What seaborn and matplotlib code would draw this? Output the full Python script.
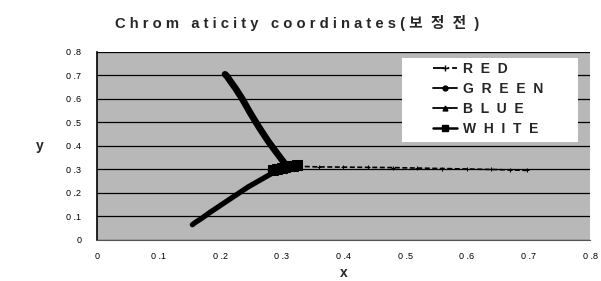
import matplotlib
matplotlib.use("Agg")
import matplotlib.pyplot as plt
import seaborn as sns
import pandas as pd
from matplotlib.lines import Line2D
from matplotlib.patches import Rectangle

sns.set_theme(style="white")
plt.rcParams['font.family'] = ['Liberation Sans', 'Noto Sans CJK KR', 'DejaVu Sans']

# data
red_x = [0.313, 0.33, 0.36, 0.40, 0.44, 0.48, 0.52, 0.56, 0.60, 0.64, 0.67, 0.697]
red_y = [0.315, 0.313, 0.311, 0.310, 0.309, 0.308, 0.306, 0.304, 0.302, 0.300, 0.298, 0.296]
green_x = [0.305, 0.292, 0.278, 0.263, 0.249, 0.236, 0.225, 0.216, 0.211, 0.208]
green_y = [0.325, 0.37, 0.42, 0.48, 0.54, 0.60, 0.645, 0.678, 0.697, 0.705]
blue_x = [0.300, 0.285, 0.265, 0.245, 0.225, 0.205, 0.185, 0.170, 0.160, 0.155]
blue_y = [0.300, 0.285, 0.255, 0.225, 0.190, 0.155, 0.120, 0.092, 0.075, 0.065]
white_x = [0.285, 0.292, 0.300, 0.306, 0.312, 0.318, 0.324]
white_y = [0.296, 0.301, 0.306, 0.310, 0.313, 0.316, 0.318]

series = ["RED", "GREEN", "BLUE", "WHITE"]
xs = [red_x, green_x, blue_x, white_x]
ys = [red_y, green_y, blue_y, white_y]

title = "C h r o m   a t i c i t y   c o o r d i n a t e s ( 보  정  전  )"
xticks = [0, 0.1, 0.2, 0.3, 0.4, 0.5, 0.6, 0.7, 0.8]
yticks = [0, 0.1, 0.2, 0.3, 0.4, 0.5, 0.6, 0.7, 0.8]

def fmt(v):
    return "0" if v == 0 else ("0 ." + str(int(round(v * 10))))

fig = plt.figure(figsize=(6.01, 2.81), dpi=100)
ax = fig.add_axes([0.161, 0.146, 0.821, 0.669])
ax.set_facecolor('#b8b8b8')

styles = {
    "RED": dict(lw=1.2, marker='+', ms=3, ls=(0, (3, 1.5)), lmk='+', lms=4),
    "GREEN": dict(lw=4.8, marker=None, ms=0, ls='-', lmk='o', lms=3.5),
    "BLUE": dict(lw=3.8, marker=None, ms=0, ls='-', lmk='^', lms=3.5),
    "WHITE": dict(lw=7, marker='s', ms=7, ls='-', lmk='s', lms=5),
}
for name, x, y in zip(series, xs, ys):
    df = pd.DataFrame({"x": x, "y": y})
    st = styles[name]
    kw = {}
    if st['marker']:
        kw = dict(marker=st['marker'], markersize=st['ms'], markeredgecolor='black')
    sns.lineplot(data=df, x="x", y="y", sort=False, color='black', ax=ax,
                 linewidth=st['lw'], linestyle=st['ls'], legend=False,
                 solid_capstyle='round', **kw)

ax.set_xlim(0, 0.8)
ax.set_ylim(0, 0.8)
ax.set_xticks(xticks)
ax.set_yticks(yticks)
ax.set_xticklabels([fmt(v) for v in xticks], fontsize=6.5)
ax.set_yticklabels([fmt(v) for v in yticks], fontsize=6.5)
ax.yaxis.grid(True, color='black', linewidth=0.9)
ax.xaxis.grid(False)
ax.set_axisbelow(True)
for s in ['top', 'right']:
    ax.spines[s].set_visible(False)
ax.spines['left'].set_color('black')
ax.spines['left'].set_linewidth(1.2)
ax.spines['bottom'].set_color('#555555')
ax.spines['bottom'].set_linewidth(0.8)
ax.tick_params(axis='both', direction='out', length=3, width=0.8, colors='black', pad=8)
ax.tick_params(axis='x', pad=6)

ax.set_xlabel("x", fontsize=10, fontweight='bold', va='center')
ax.set_ylabel("y", fontsize=10, fontweight='bold', rotation=0, va='center', ha='center')
ax.xaxis.set_label_coords(0.5, -0.176)
ax.yaxis.set_label_coords(-0.116, 0.5)

fig.text(0.495, 0.918, title, ha='center', va='center', fontsize=10.6, fontweight='bold')

# legend box
ax.add_patch(Rectangle((0.619, 0.521), 0.357, 0.447, transform=ax.transAxes,
                       facecolor='white', edgecolor='none', zorder=4))
handles = []
for name in series:
    st = styles[name]
    handles.append(Line2D([0], [0], color='black', lw=1.3 if name != "WHITE" else 1.8,
                          marker=st['lmk'], markersize=st['lms'],
                          ls='-.' if name == "RED" else '-'))
labels = ["  ".join(n) for n in series]
leg = ax.legend(handles, labels, loc='upper left', bbox_to_anchor=(0.681, 0.945),
                frameon=False, prop={'size': 10, 'weight': 'bold'}, handlelength=1.75,
                labelspacing=0.42, borderpad=0, handletextpad=0.45, borderaxespad=0)
leg.set_zorder(5)

fig.savefig("out.png", dpi=100, facecolor='white')
